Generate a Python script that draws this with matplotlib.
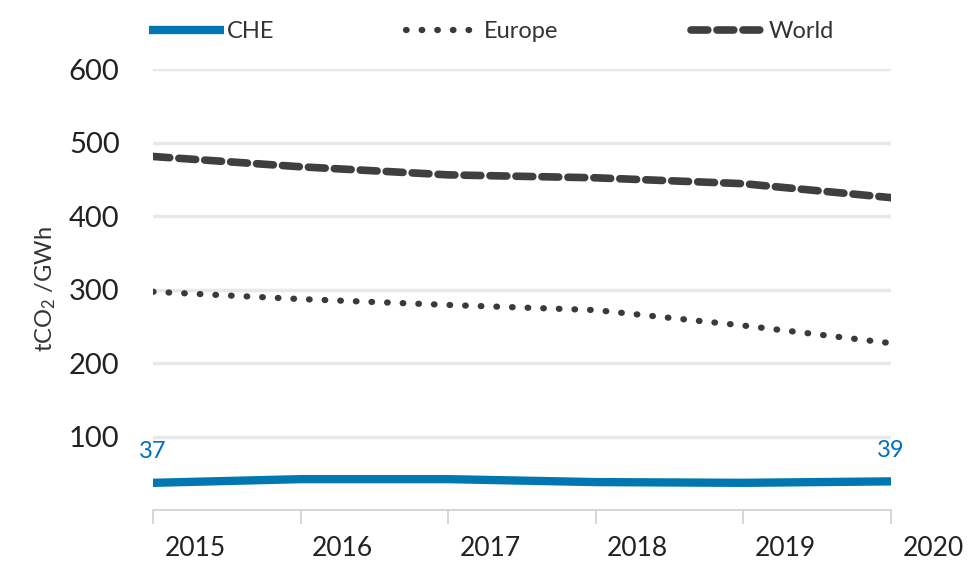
import matplotlib
matplotlib.use("Agg")
from matplotlib import pyplot as plt
from matplotlib import transforms

years = [2015, 2016, 2017, 2018, 2019, 2020]
che = [37, 42, 42, 38, 37, 39]
europe = [297, 287, 279, 272, 251, 227]
world = [481, 467, 456, 452, 444, 425]
yticks = [100, 200, 300, 400, 500, 600]

plt.rcParams['font.family'] = ['Lato', 'DejaVu Sans']
plt.rcParams['mathtext.default'] = 'regular'

fig = plt.figure(figsize=(9.73, 5.63), dpi=100)
ax = fig.add_axes([0.1572, 0.0941, 0.7585, 0.7833])

grid_col = "#e8e8e8"
for y in yticks:
    ax.axhline(y, color=grid_col, lw=2.5, zorder=0)

ax.plot(years, che, color="#0077b0", lw=6, solid_capstyle="butt", label="CHE")
ax.plot(years, europe, color="#3a3a3a", lw=4.5, linestyle=(0, (0.1, 2.4)),
        dash_capstyle="round", label="Europe")
ax.plot(years, world, color="#3f3f3f", lw=5.5, linestyle=(0, (2.2, 1.2)),
        dash_capstyle="round", label="World")

ax.annotate(str(che[0]), (years[0], che[0]), xytext=(0, 15), textcoords="offset points",
            ha="center", va="bottom", color="#0070c0", fontsize=17)
ax.annotate(str(che[-1]), (years[-1], che[-1]), xytext=(0, 15), textcoords="offset points",
            ha="center", va="bottom", color="#0070c0", fontsize=17)

ax.set_xlim(2015, 2020)
ax.set_ylim(0, 600)
ax.set_yticks(yticks)
ax.set_xticks(years)
ax.tick_params(axis="y", length=0, labelsize=21, pad=24, labelcolor="#222222")
ax.tick_params(axis="x", length=10, width=1.2, color="#d0d0d0", labelsize=19,
               pad=9, labelcolor="#222222")
offset = transforms.ScaledTranslation(42 / 100, 0, fig.dpi_scale_trans)
for lab in ax.get_xticklabels():
    lab.set_transform(lab.get_transform() + offset)

for s in ["top", "right", "left"]:
    ax.spines[s].set_visible(False)
ax.spines["bottom"].set_color("#d0d0d0")
ax.spines["bottom"].set_linewidth(1.2)

ax.set_ylabel("tCO$_2$ /GWh", fontsize=17, color="#333333", labelpad=8)

leg = fig.legend(loc="upper center", bbox_to_anchor=(0.505, 1.0), ncol=3, frameon=False,
                 fontsize=17, handlelength=3.2, handletextpad=0.1, columnspacing=5.6)
for t in leg.get_texts():
    t.set_color("#333333")

fig.savefig("out.png", dpi=100)
